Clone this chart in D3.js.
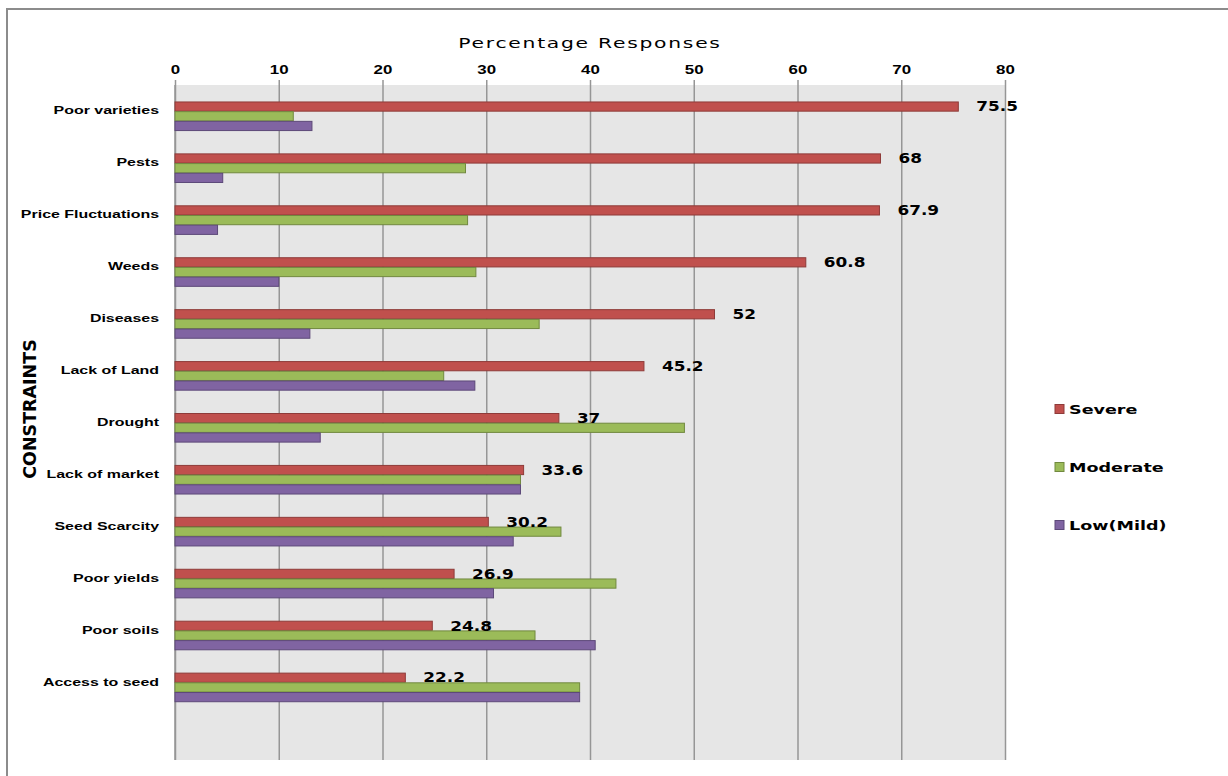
<!DOCTYPE html>
<html>
<head>
<meta charset="utf-8">
<script src="https://cdn.jsdelivr.net/npm/d3@7"></script>
<style>
  body { margin: 0; background: #fff; }
  svg { display: block; font-family: "DejaVu Sans", Verdana, sans-serif; }
</style>
</head>
<body>
<div id="chart"></div>
<script>
// constraint categories, top to bottom
const categories = ['Poor varieties', 'Pests', 'Price Fluctuations', 'Weeds', 'Diseases',
   'Lack of Land', 'Drought', 'Lack of market', 'Seed Scarcity', 'Poor yields',
   'Poor soils', 'Access to seed'];

const seriesNames = ['Severe', 'Moderate', 'Low(Mild)'];

const severe   = [75.5, 68, 67.9, 60.8, 52, 45.2, 37, 33.6, 30.2, 26.9, 24.8, 22.2];
const moderate = [11.4, 28.0, 28.2, 29.0, 35.1, 25.9, 49.1, 33.3, 37.2, 42.5, 34.7, 39.0];
const low      = [13.2, 4.6, 4.1, 10.0, 13.0, 28.9, 14.0, 33.3, 32.6, 30.7, 40.5, 39.0];

const xTicks = [0, 10, 20, 30, 40, 50, 60, 70, 80];

   const width = 1228;
   const height = 776;
   const margin = {top: 85, bottom: 16, left: 175, right: 223};

   const colors = ['#c0504d', '#9bbb59', '#8064a2'];
   const strokes = ['#8e3b39', '#71893f', '#5d4979'];

   // the original picture is stretched sideways, so is its text
   const stretch = 1.4;

   const svg = d3.select('#chart')
                 .append('svg')
                 .attr('width', width)
                 .attr('height', height);

   // outer frame
   svg.append('rect')
      .attr('x', 7).attr('y', 9)
      .attr('width', width + 10).attr('height', height + 10)
      .attr('fill', 'none')
      .attr('stroke', '#8c8c8c')
      .attr('stroke-width', 2);

   const x = d3.scaleLinear()
               .domain([0, 80])
               .range([margin.left, width - margin.right]);

   // one empty slot at the bottom, like the original
   const y = d3.scaleBand()
               .domain(categories.concat(['']))
               .range([margin.top, height - margin.bottom])
               .padding(0);

   const barH = 9.7;
   const sub = d3.scaleBand()
                 .domain(seriesNames)
                 .range([0, barH * 3]);

   // plot background
   svg.append('rect')
      .attr('x', x(0)).attr('y', margin.top)
      .attr('width', x(80) - x(0))
      .attr('height', height - margin.bottom - margin.top)
      .attr('fill', '#e6e6e6');

   const plotH = height - margin.bottom - margin.top;

   const xAxis = (g) => {
      g.attr('transform', `translate(0, ${margin.top})`)
       .call(d3.axisTop(x).tickValues(xTicks).tickSizeInner(-plotH).tickSizeOuter(0).tickPadding(11))
       .call(g => g.select('.domain').remove())
       .call(g => g.selectAll('.tick line').attr('y1', -5).attr('stroke', '#969696').attr('stroke-width', 1.5))
       .call(g => g.selectAll('.tick text')
                   .attr('transform', 'scale(1.3,1)')
                   .attr('font-size', '13px')
                   .attr('font-weight', 'bold')
                   .attr('fill', '#000'));
   }

   const yAxis = (g) => {
      g.attr('transform', `translate(${x(0)}, 0)`)
       .call(d3.axisLeft(y).tickSize(0))
       .call(g => g.select('.domain').remove())
       .call(g => g.selectAll('.tick text')
                   .attr('x', -16 / 1.45)
                   .attr('transform', 'scale(1.45,1)')
                   .attr('font-size', '11px')
                   .attr('font-weight', 'bold')
                   .attr('fill', '#000'));
   }

   svg.append('g').call(xAxis);
   svg.append('g').call(yAxis);

   // left axis line
   svg.append('line')
      .attr('x1', x(0)).attr('x2', x(0))
      .attr('y1', margin.top).attr('y2', height - margin.bottom)
      .attr('stroke', '#969696').attr('stroke-width', 1.5);

   const seriesData = [severe, moderate, low];

   const groups = svg.append('g')
      .selectAll('g')
      .data(categories)
      .join('g')
      .attr('transform', (d) => `translate(0, ${y(d) + y.bandwidth() / 2 - 9.5})`);

   groups.selectAll('rect')
      .data((d, i) => seriesNames.map((s, j) => ({series: s, j: j, value: seriesData[j][i]})))
      .join('rect')
      .attr('x', x(0))
      .attr('y', d => sub(d.series) + 0.5)
      .attr('width', d => x(d.value) - x(0))
      .attr('height', sub.bandwidth() - 0.5)
      .attr('fill', d => colors[d.j])
      .attr('stroke', d => strokes[d.j])
      .attr('stroke-width', 1);

   // data labels for the Severe series
   groups.append('text')
      .attr('transform', (d, i) => `translate(${x(severe[i]) + 18}, ${sub('Severe') + sub.bandwidth() / 2 + 1}) scale(1.25,1)`)
      .attr('dominant-baseline', 'middle')
      .attr('font-size', '13.5px')
      .attr('font-weight', 'bold')
      .attr('fill', '#000')
      .text((d, i) => severe[i]);

   // axis titles
   svg.append('text')
      .attr('transform', `translate(${(x(0) + x(80)) / 2}, 44) scale(${stretch + 0.05},1)`)
      .attr('text-anchor', 'middle')
      .attr('dominant-baseline', 'middle')
      .attr('font-size', '14px')
      .attr('letter-spacing', '1.2px')
      .text('Percentage Responses');

   svg.append('text')
      .attr('transform', 'translate(31, 409) rotate(-90)')
      .attr('text-anchor', 'middle')
      .attr('dominant-baseline', 'middle')
      .attr('font-size', '17.5px')
      .attr('font-weight', 'bold')
      .text('CONSTRAINTS');

   // legend
   const legend = svg.append('g')
      .selectAll('g')
      .data(seriesNames)
      .join('g')
      .attr('transform', (d, i) => `translate(1055, ${409 + i * 58})`);

   legend.append('rect')
      .attr('x', 0).attr('y', -4.5)
      .attr('width', 9).attr('height', 9)
      .attr('fill', (d, i) => colors[i])
      .attr('stroke', (d, i) => strokes[i]);

   legend.append('text')
      .attr('transform', `translate(14, 1) scale(1.35,1)`)
      .attr('dominant-baseline', 'middle')
      .attr('font-size', '13px')
      .attr('font-weight', 'bold')
      .text(d => d);
</script>
</body>
</html>
